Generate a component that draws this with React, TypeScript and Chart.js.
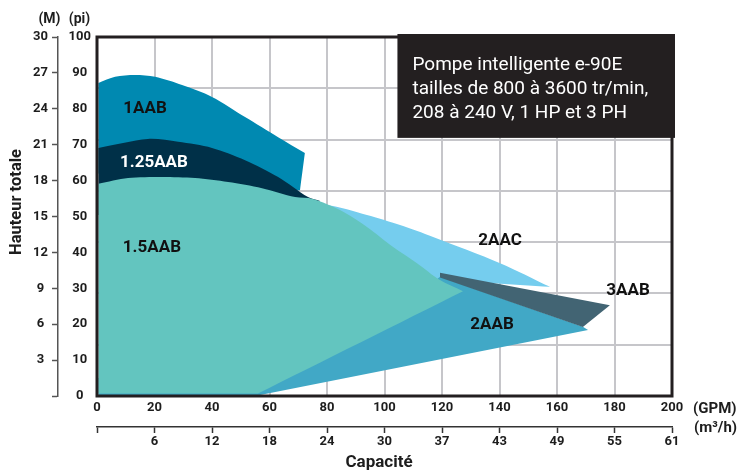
import React, { useEffect, useRef } from 'react';
import { Chart, registerables } from 'chart.js';

Chart.register(...registerables);

// ---- tick labels ----
const gpmLabels = ['0', '20', '40', '60', '80', '100', '120', '140', '160', '180', '200'];
const m3hLabels = ['', '6', '12', '18', '24', '30', '37', '43', '49', '55', '61'];
const piLabels = ['0', '10', '20', '30', '40', '50', '60', '70', '80', '90', '100'];
const mLabels = ['', '3', '6', '9', '12', '15', '18', '21', '24', '27', '30'];

// ---- series outlines (x = GPM, y = pi); a repeated point marks a sharp corner ----
const oneAAB = [
  { x: 0.5, y: 87.2 }, { x: 6.3, y: 88.9 }, { x: 13.2, y: 89.4 }, { x: 20.2, y: 88.9 },
  { x: 29.6, y: 86.6 }, { x: 40, y: 83.3 }, { x: 51.5, y: 77.7 }, { x: 63, y: 72.1 },
  { x: 72.3, y: 67.7 }, { x: 72.3, y: 67.7 }, { x: 70.6, y: 57.3 }, { x: 70.6, y: 57.3 },
  { x: 40, y: 57 }, { x: 0.5, y: 62 },
];
const oneQuarterAAB = [
  { x: 0.5, y: 69.1 }, { x: 17.7, y: 71.6 }, { x: 28.2, y: 70.8 }, { x: 40, y: 69.1 },
  { x: 51.5, y: 65.7 }, { x: 63, y: 61.0 }, { x: 73.4, y: 55.4 }, { x: 77.6, y: 54.3 },
  { x: 77.6, y: 54.3 }, { x: 70.6, y: 50.4 }, { x: 0.5, y: 50.4 },
];
const oneHalfAAB = [
  { x: 0.5, y: 59.1 }, { x: 10.8, y: 60.7 }, { x: 22.6, y: 61.0 }, { x: 34.1, y: 60.7 },
  { x: 45.6, y: 59.6 }, { x: 57.4, y: 57.9 }, { x: 68.9, y: 55.4 }, { x: 75.1, y: 54.9 },
  { x: 84.5, y: 51.8 }, { x: 93.9, y: 47.1 }, { x: 103, y: 41.5 }, { x: 111.3, y: 37 },
  { x: 119.3, y: 32.3 }, { x: 127.3, y: 29.2 }, { x: 127.3, y: 29.2 }, { x: 56, y: 0.7 },
  { x: 56, y: 0.7 }, { x: 0.5, y: 0.7 },
];
const twoAAC = [
  { x: 76.5, y: 52.0 }, { x: 80, y: 53.2 }, { x: 93.9, y: 50.4 }, { x: 105.4, y: 47.6 },
  { x: 116.9, y: 44.3 }, { x: 140.2, y: 37.0 }, { x: 157.6, y: 30.4 },
  { x: 157.6, y: 30.4 }, { x: 136.7, y: 31.5 }, { x: 136.7, y: 31.5 }, { x: 81, y: 18.4 },
];
const threeAAB = [
  { x: 119.3, y: 34.3 }, { x: 178.4, y: 25.3 }, { x: 169, y: 19.2 }, { x: 119.3, y: 33.0 },
];
const twoAAB = [
  { x: 119.3, y: 33.2 }, { x: 169, y: 19.3 }, { x: 170.8, y: 18.4 }, { x: 55, y: 0 },
  { x: 0.5, y: 0 }, { x: 0.5, y: 5 }, { x: 100, y: 20 },
];

// ---- series names and their label anchors (GPM, pi) ----
const seriesNames = ['1AAB', '1.25AAB', '1.5AAB', '2AAC', '3AAB', '2AAB'];
const labelGpm = [16.7, 19.8, 19.1, 140.2, 184.7, 137.4];
const labelPi = [79.9, 64.9, 41.2, 43.2, 29.2, 19.8];

const infoLines = ['Pompe intelligente e-90E', 'tailles de 800 à 3600 tr/min,', '208 à 240 V, 1 HP et 3 PH'];

const FONT = 'Roboto';
const INK = '#1d1d1d';

const overlayPlugin = {
  id: 'overlay',
  afterDatasetsDraw(chart: any) {
    const { ctx, chartArea: a, scales } = chart;
    const sx = scales.x;
    const sy = scales.y;
    ctx.save();
    // series labels
    ctx.font = `bold 17px ${FONT}`;
    ctx.textAlign = 'center';
    ctx.textBaseline = 'middle';
    seriesNames.forEach((name, i) => {
      ctx.fillStyle = name === '1.25AAB' ? '#ffffff' : '#111111';
      ctx.fillText(name, sx.getPixelForValue(labelGpm[i]), sy.getPixelForValue(labelPi[i]));
    });
    // frame
    ctx.strokeStyle = '#231f20';
    ctx.lineWidth = 3;
    ctx.strokeRect(a.left, a.top, a.right - a.left, a.bottom - a.top);
    // info box
    const bl = sx.getPixelForValue(104.5);
    const bt = a.top - 3;
    const br = a.right + 3;
    const bb = sy.getPixelForValue(71.9);
    ctx.fillStyle = '#231f20';
    ctx.fillRect(bl, bt, br - bl, bb - bt);
    ctx.fillStyle = '#ffffff';
    ctx.font = `19px ${FONT}`;
    ctx.textAlign = 'left';
    ctx.textBaseline = 'alphabetic';
    infoLines.forEach((line, i) => {
      ctx.fillText(line, bl + 15, bt + 36 + i * 24);
    });
    ctx.restore();
  },
  afterDraw(chart: any) {
    const { ctx } = chart;
    ctx.save();
    ctx.fillStyle = INK;
    ctx.textBaseline = 'middle';
    ctx.textAlign = 'center';
    ctx.font = `bold 14px ${FONT}`;
    ctx.fillText('(M)', 49.5, 19);
    ctx.fillText('(pi)', 79.5, 19);
    ctx.textAlign = 'left';
    ctx.font = `bold 15px ${FONT}`;
    ctx.fillText('(GPM)', 693, 409);
    ctx.fillText('(m³/h)', 694, 428);
    ctx.textAlign = 'center';
    ctx.font = `bold 17px ${FONT}`;
    ctx.fillText('Capacité', 379, 463);
    ctx.font = `bold 16.5px ${FONT}`;
    ctx.translate(17, 202);
    ctx.rotate(-Math.PI / 2);
    ctx.fillText('Hauteur totale', 0, 0);
    ctx.restore();
  },
};

const tickFont = { family: FONT, size: 13, weight: 'bold' as const };

function makeDataset(label: string, data: any[], color: string, tension: number) {
  return {
    label,
    data,
    showLine: true,
    fill: 'shape',
    backgroundColor: color,
    borderColor: 'rgba(0,0,0,0)',
    borderWidth: 0,
    pointRadius: 0,
    pointHoverRadius: 0,
    tension,
  };
}

export default function App() {
  const canvasRef = useRef<HTMLCanvasElement | null>(null);

  useEffect(() => {
    if (!canvasRef.current) return;
    const chart = new Chart(canvasRef.current, {
      type: 'scatter',
      data: {
        datasets: [
          makeDataset('1.5AAB', oneHalfAAB, '#63c5bf', 0.3),
          makeDataset('1.25AAB', oneQuarterAAB, '#003048', 0.3),
          makeDataset('1AAB', oneAAB, '#0089b1', 0.3),
          makeDataset('3AAB', threeAAB, '#426473', 0),
          makeDataset('2AAB', twoAAB, '#41a8c6', 0),
          makeDataset('2AAC', twoAAC, '#75cdee', 0.3),
        ] as any,
      },
      options: {
        responsive: false,
        animation: false,
        devicePixelRatio: 1,
        layout: { padding: { top: 37, right: 67, bottom: 0, left: 0 } },
        plugins: {
          legend: { display: false },
          tooltip: { enabled: false },
        },
        scales: {
          x: {
            type: 'linear',
            position: 'bottom',
            min: 0,
            max: 200,
            ticks: {
              stepSize: 20,
              autoSkip: false,
              maxRotation: 0,
              padding: 4,
              font: tickFont,
              color: INK,
              callback: (_v: any, i: number) => gpmLabels[i],
            },
            grid: { color: '#c6c6ca', lineWidth: 2, drawTicks: false },
            border: { display: false },
            afterFit: (s: any) => { s.height = 31; },
          },
          x2: {
            type: 'linear',
            position: 'bottom',
            weight: 1,
            min: 0,
            max: 200,
            ticks: {
              stepSize: 20,
              autoSkip: false,
              maxRotation: 0,
              padding: 1,
              font: tickFont,
              color: INK,
              callback: (_v: any, i: number) => m3hLabels[i],
            },
            grid: { drawOnChartArea: false, drawTicks: true, tickLength: 6, tickColor: '#333', tickWidth: 1.5 },
            border: { display: true, color: '#333', width: 1.5 },
            afterFit: (s: any) => { s.height = 46; },
          },
          y: {
            type: 'linear',
            position: 'left',
            min: 0,
            max: 100,
            ticks: {
              stepSize: 10,
              crossAlign: 'center',
              padding: 6,
              font: tickFont,
              color: INK,
              callback: (_v: any, i: number) => piLabels[i],
            },
            grid: { display: false, drawTicks: false },
            border: { display: false },
            afterFit: (s: any) => { s.width = 39; },
          },
          yM: {
            type: 'linear',
            position: 'left',
            weight: 1,
            min: 0,
            max: 100,
            ticks: {
              stepSize: 10,
              crossAlign: 'center',
              padding: 4,
              font: tickFont,
              color: INK,
              callback: (_v: any, i: number) => mLabels[i],
            },
            grid: { drawOnChartArea: false, drawTicks: true, tickLength: 6, tickColor: '#555', tickWidth: 1.5 },
            border: { display: true, color: '#555', width: 1.5 },
            afterFit: (s: any) => { s.width = 58; },
          },
          yGrid: {
            type: 'linear',
            position: 'right',
            min: 0,
            max: 7,
            ticks: { display: false, stepSize: 1 },
            grid: { color: '#c6c6ca', lineWidth: 2, drawTicks: false },
            border: { display: false },
            afterFit: (s: any) => { s.width = 0; },
          },
        } as any,
      },
      plugins: [overlayPlugin],
    });
    return () => chart.destroy();
  }, []);

  return (
    <div style={{ position: 'absolute', left: 0, top: 0, width: 739, height: 473, background: '#fff' }}>
      <canvas ref={canvasRef} width={739} height={473} style={{ display: 'block' }} />
    </div>
  );
}
